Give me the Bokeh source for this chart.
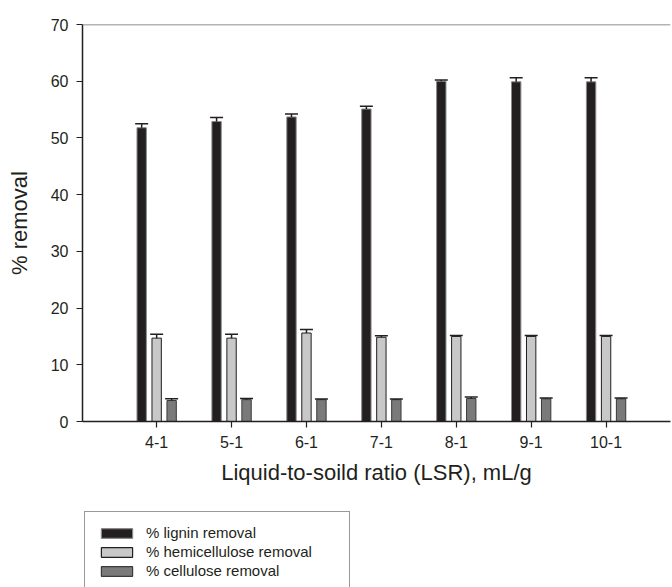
import numpy as np
from bokeh.plotting import figure
from bokeh.layouts import column
from bokeh.models import (ColumnDataSource, Range1d, FixedTicker, Whisker, TeeHead,
                          Legend, LegendItem, Span, Title)
from bokeh.embed import file_html
from bokeh.resources import INLINE

# ---- data ----
categories = ["4-1", "5-1", "6-1", "7-1", "8-1", "9-1", "10-1"]
lignin = [51.8, 52.9, 53.7, 55.1, 60.0, 59.9, 59.9]
lignin_err = [0.7, 0.7, 0.5, 0.5, 0.2, 0.7, 0.7]
hemicellulose = [14.7, 14.7, 15.6, 14.85, 15.0, 15.0, 15.0]
hemicellulose_err = [0.7, 0.7, 0.6, 0.25, 0.15, 0.15, 0.15]
cellulose = [3.7, 3.85, 3.85, 3.85, 4.05, 4.0, 4.0]
cellulose_err = [0.3, 0.2, 0.1, 0.1, 0.25, 0.15, 0.15]
series_names = ["% lignin removal", "% hemicellulose removal", "% cellulose removal"]
y_ticks = [0, 10, 20, 30, 40, 50, 60, 70]
x_title = "Liquid-to-soild ratio (LSR), mL/g"
y_title = "% removal"

FONT = "Liberation Sans"
INK = "#231f20"

idx = np.arange(len(categories))

p = figure(width=672, height=505, output_backend="svg", toolbar_location=None,
           x_range=Range1d(-0.99, 6.86), y_range=Range1d(0, 70),
           min_border_left=82, min_border_right=2, min_border_top=24,
           min_border_bottom=84)
p.outline_line_color = None
p.xgrid.grid_line_color = None
p.ygrid.grid_line_color = None
p.background_fill_color = "white"
p.border_fill_color = "white"

styles = [
    (INK, "#8a8a8a"),
    ("#c8c8c8", INK),
    ("#7a7a7a", "#3a3a3a"),
]
series = [
    (lignin, lignin_err, -0.2),
    (hemicellulose, hemicellulose_err, 0.0),
    (cellulose, cellulose_err, 0.2),
]
sources = []
for (vals, errs, off), (fill, edge) in zip(series, styles):
    src = ColumnDataSource(dict(x=idx + off, top=vals,
                                up=np.array(vals) + np.array(errs)))
    sources.append(src)
    p.vbar(x="x", top="top", bottom=0, width=0.125, source=src,
           fill_color=fill, line_color=edge, line_width=1)
    w = Whisker(base="x", lower="top", upper="up", source=src,
                upper_head=TeeHead(size=13, line_color=INK, line_width=1.5),
                lower_head=None, line_color=INK, line_width=1.5, level="overlay")
    p.add_layout(w)

# top frame line
p.add_layout(Span(location=70, dimension="width", line_color="#6a6a6a", line_width=1.5))

# axes
for ax in (p.xaxis[0], p.yaxis[0]):
    ax.axis_line_color = INK
    ax.axis_line_width = 1.5
    ax.major_tick_line_color = INK
    ax.major_tick_line_width = 1.2
    ax.major_tick_out = 6
    ax.major_tick_in = 0
    ax.minor_tick_line_color = None
    ax.major_label_text_font = FONT
    ax.major_label_text_font_size = "16px"
    ax.major_label_text_color = INK

p.yaxis.ticker = FixedTicker(ticks=y_ticks)
p.yaxis.major_label_standoff = 8
p.yaxis.axis_label = y_title
p.yaxis.axis_label_text_font = FONT
p.yaxis.axis_label_text_font_size = "22px"
p.yaxis.axis_label_text_font_style = "normal"
p.yaxis.axis_label_text_color = INK
p.yaxis.axis_label_standoff = 16

p.xaxis.ticker = FixedTicker(ticks=list(idx))
p.xaxis.major_label_overrides = {int(i): c for i, c in zip(idx, categories)}
p.xaxis.major_label_standoff = 8

# x-axis title (the reference's axis runs past the crop, so its title sits right of centre)
p.add_layout(Title(text=x_title, align="center", offset=25, standoff=14,
                   text_font=FONT, text_font_size="22px", text_font_style="normal",
                   text_color=INK), "below")

# ---- legend panel below the chart (same data, drawn outside its view) ----
lg = figure(width=672, height=82, output_backend="svg", toolbar_location=None,
            x_range=Range1d(100, 101), y_range=Range1d(100, 101),
            x_axis_type=None, y_axis_type=None,
            min_border_left=0, min_border_right=0, min_border_top=0, min_border_bottom=0)
lg.outline_line_color = None
lg.xgrid.grid_line_color = None
lg.ygrid.grid_line_color = None
lg.border_fill_color = "white"
lg_renderers = []
for src, (fill, edge) in zip(sources, styles):
    lg_renderers.append(lg.vbar(x="x", top="top", bottom=0, width=0.125, source=src,
                                fill_color=fill, line_color=edge, line_width=1.2))

legend = Legend(items=[LegendItem(label=n, renderers=[r]) for n, r in zip(series_names, lg_renderers)],
                location=(2, -5), orientation="vertical",
                label_text_font=FONT, label_text_font_size="15px", label_text_color=INK,
                glyph_width=39, glyph_height=12, label_height=16, label_width=191,
                label_standoff=10, spacing=2, padding=12, margin=0,
                border_line_color="#333333", border_line_width=1.2,
                background_fill_color="white", background_fill_alpha=1)
lg.add_layout(legend, "center")

layout = column(p, lg, spacing=0)
open("out.html", "w").write(file_html(layout, INLINE))
